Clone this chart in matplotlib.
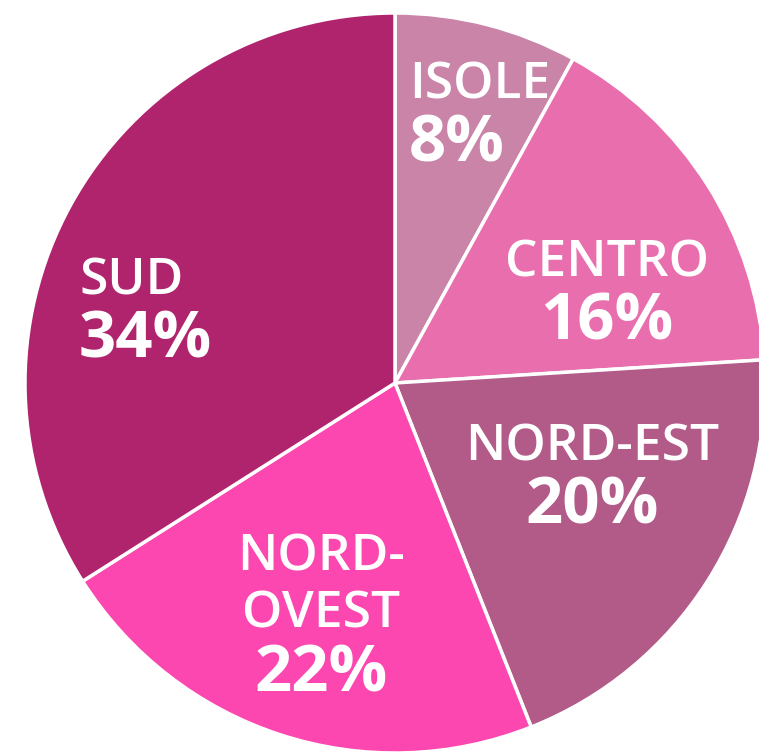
import matplotlib
matplotlib.use("Agg")
import matplotlib.pyplot as plt

# ----------------------------
# Dati
# ----------------------------
regions = ["ISOLE", "CENTRO", "NORD-EST", "NORD-\nOVEST", "SUD"]
shares = [8, 16, 20, 22, 34]
colors = ["#c984a8", "#e96eae", "#b25a88", "#fd47b0", "#b0246d"]

# ----------------------------
# Figura: centro torta a (395, 383) px, raggio 370 px
# ----------------------------
W, H = 759, 753
cx, cy, R = 395, 383, 370

fig = plt.figure(figsize=(W / 100, H / 100), dpi=100)
ax = fig.add_axes([0, 0, 1, 1])

ax.pie(shares, colors=colors, startangle=90, counterclock=False, radius=1.0,
       wedgeprops=dict(edgecolor="white", linewidth=2.5))

ax.set_aspect("equal")
ax.set_xlim(-cx / R, (W - cx) / R)
ax.set_ylim(-(H - cy) / R, cy / R)
ax.axis("off")

# posizione etichette (px nell'immagine) e allineamento
label_pos = [(409, 110), (607, 288), (592, 472), (321, 640), (79, 306)]
label_ha = ["left", "center", "center", "center", "left"]

font = "Open Sans"
for name, val, (px, py), ha in zip(regions, shares, label_pos, label_ha):
    x = (px - cx) / R
    y = (cy - py) / R
    ax.text(x, y, name, ha=ha, va="bottom", color="white",
            fontsize=37, family=font, fontweight="semibold", linespacing=1.2)
    ax.text(x, y - 0.008, f"{val}%", ha=ha, va="top", color="white",
            fontsize=47, family=font, fontweight="bold")

fig.savefig("out.png", dpi=100)
